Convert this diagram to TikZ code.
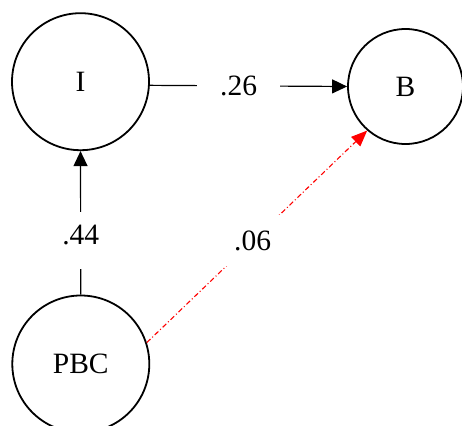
\documentclass[tikz,border=0pt]{standalone}
\usepackage{fontspec}
\setmainfont{Liberation Serif}
\usetikzlibrary{arrows.meta}
\tikzset{
  latent/.style={circle, draw=black, line width=1.8pt, fill=white, minimum size=137pt, inner sep=0pt, font=\fontsize{29.5}{34}\selectfont},
  arr/.style={line width=1.2pt, -{Triangle[length=15pt,width=14pt]}},
  redarr/.style={draw=red, line width=1.1pt, dash pattern=on 5pt off 2.5pt on 1pt off 2.5pt, -{Triangle[length=16pt,width=13pt,fill=red]}},
  lbl/.style={fill=white, inner sep=0pt, font=\fontsize{29.5}{34}\selectfont}
}
\begin{document}
\begin{tikzpicture}[x=1pt,y=-1pt]
\useasboundingbox (0,0) rectangle (462,425);
\node[latent] (I) at (80.5,81.7) {I};
\node[latent, minimum size=115pt] (B) at (405.5,86.5) {B};
\node[latent] (PBC) at (80.8,364) {PBC};
\draw[arr] (I.-3) -- node[lbl, pos=0.45, minimum width=83pt, minimum height=50pt] {.26} (B.180);
\draw[arr] (PBC.north) -- node[lbl, pos=0.38, minimum width=114pt, minimum height=57pt, text depth=10pt] {.44} (I.south);
\draw[redarr] (PBC.18) -- node[lbl, pos=0.48, minimum width=83pt, minimum height=51pt, text=black] {.06} (B.229);
\end{tikzpicture}
\end{document}
